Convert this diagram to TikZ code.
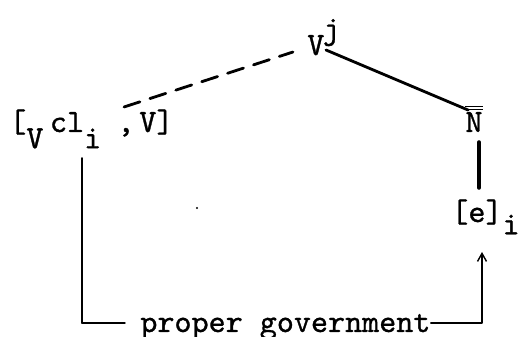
\documentclass[tikz,border=0pt]{standalone}
\usepackage{fontspec}
\usetikzlibrary{arrows.meta}
\newfontfamily\typewr{lmmono10-regular.otf}[FakeBold=0.9]
\newcommand{\lowr}[2][.5em]{\raisebox{-#1}{#2}}

\begin{document}
\begin{tikzpicture}[x=0.02cm,y=-0.02cm,line join=round,line cap=round,
	lbl/.style={font={\typewr\fontsize{18.5}{20}\selectfont},inner sep=0pt},
	stem/.style={line width=1.6pt},
	govline/.style={line width=0.8pt},
	>={Straight Barb[length=1.6mm,width=1.8mm]}]
	\useasboundingbox (0,0) rectangle (527,337);
	\node[lbl,anchor=base west] (vj) at (307,55) {V\hspace{-.05em}\raisebox{.5em}{j}};
	\node[lbl,anchor=base west] (clit) at (9,132) {[\lowr{V}\hspace{.2em}cl\lowr{i}\hspace{.5em},\hspace{.15em}V]};
	\node[lbl,anchor=base] (nbar) at (474,132) {$\overline{\overline{\hbox{N}}}$};
	\node[lbl,anchor=base west] (empty) at (451,222) {[e]\lowr[.38em]{i}};
	\node[lbl,anchor=base west] (pg) at (140,332) {proper government};
	
	\draw[stem,dash pattern=on 9.5pt off 6pt] ([shift={(115,-25)}]clit.base west) -- ([shift={(-14,-3)}]vj.base west);
	\draw[stem] ([shift={(19,-5)}]vj.base west) -- ([shift={(-6,-22)}]nbar.base);
	\draw[line width=2pt] ([shift={(5,10)}]nbar.base) -- ([shift={(28,-34)}]empty.base west);
	
	\path ([shift={(73,26)}]clit.base west) coordinate (govL);
	\draw[govline,line width=1.1pt] (govL) -- (govL |- 0,323);
	\draw[govline] (govL |- 0,323) -- ([shift={(-15,-9)}]pg.base west);
	\draw[govline,->] ([shift={(0,-9)}]pg.base east) -| ([shift={(31,30)}]empty.base west);
	\fill (197,208) circle (1.2);
\end{tikzpicture}
\end{document}
